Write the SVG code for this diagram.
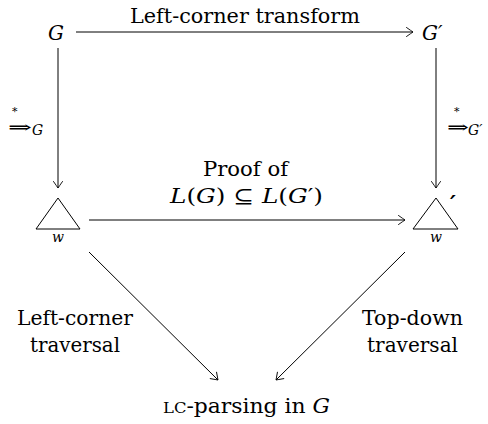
<svg xmlns="http://www.w3.org/2000/svg" width="488" height="424" viewBox="0 0 488 424">
<defs>
<style>
text{font-family:'DejaVu Serif','Liberation Serif',serif;fill:#000}
.t{font-size:20px}
.i{font-style:italic}
.s{font-size:14px}
.ln{stroke:#000;stroke-width:1;fill:none}
</style>
<marker id="ah" markerWidth="12" markerHeight="12" refX="0" refY="0" viewBox="-8 -6 10 12" orient="auto" markerUnits="userSpaceOnUse">
<path d="M-6.5,-4.5 Q-1.5,-1 0,0 Q-1.5,1 -6.5,4.5" fill="none" stroke="#000" stroke-width="0.9" stroke-linecap="round"/>
</marker>
</defs>
<rect width="488" height="424" fill="#fff"/>
<g id="connectors">
<line class="ln" x1="76" y1="32" x2="413" y2="32" marker-end="url(#ah)"/>
<line class="ln" x1="58" y1="48" x2="58" y2="188" marker-end="url(#ah)"/>
<line class="ln" x1="436" y1="48" x2="436" y2="188" marker-end="url(#ah)"/>
<line class="ln" x1="89" y1="220" x2="405" y2="220" marker-end="url(#ah)"/>
<line class="ln" x1="89" y1="252" x2="218" y2="380" marker-end="url(#ah)"/>
<line class="ln" x1="405" y1="252" x2="276" y2="380" marker-end="url(#ah)"/>
<text class="t" x="130" y="23" textLength="230" lengthAdjust="spacingAndGlyphs">Left-corner transform</text>
<text id="lbl-left-deriv" font-size="17"><tspan x="8" y="133" textLength="24" lengthAdjust="spacingAndGlyphs">⇒</tspan><tspan x="12" y="115" font-size="11">*</tspan><tspan class="s i" x="32" y="135">G</tspan></text>
<text id="lbl-right-deriv" font-size="17"><tspan x="447" y="133" textLength="22" lengthAdjust="spacingAndGlyphs">⇒</tspan><tspan x="454" y="115" font-size="11">*</tspan><tspan class="s i" x="468" y="135">G′</tspan></text>
<text class="t" x="203" y="176" textLength="85" lengthAdjust="spacingAndGlyphs">Proof of</text>
<text class="t" x="170" y="203" textLength="153" lengthAdjust="spacingAndGlyphs"><tspan class="i">L</tspan>(<tspan class="i">G</tspan>) ⊆ <tspan class="i">L</tspan>(<tspan class="i">G</tspan>′)</text>
<text class="t" x="17" y="325" textLength="116" lengthAdjust="spacingAndGlyphs">Left-corner</text>
<text class="t" x="30" y="352" textLength="90" lengthAdjust="spacingAndGlyphs">traversal</text>
<text class="t" x="362" y="325" textLength="101" lengthAdjust="spacingAndGlyphs">Top-down</text>
<text class="t" x="367" y="352" textLength="91" lengthAdjust="spacingAndGlyphs">traversal</text>
</g>
<g id="node-G">
<text class="t i" x="48" y="40">G</text>
</g>
<g id="node-Gp">
<text class="t i" x="422" y="40">G′</text>
</g>
<g id="node-tri-left">
<path class="ln" d="M58,198 L36,229 L80,229 Z"/>
<text class="s i" x="58" y="242" text-anchor="middle">w</text>
</g>
<g id="node-tri-right">
<path class="ln" d="M436,198 L413,229 L458,229 Z"/>
<text x="450" y="211" font-size="22" font-weight="bold" class="i">′</text>
<text class="s i" x="436" y="242" text-anchor="middle">w</text>
</g>
<g id="node-lc">
<text class="t" x="163" y="413" textLength="167" lengthAdjust="spacingAndGlyphs"><tspan font-size="15">LC</tspan>-parsing in <tspan class="i">G</tspan></text>
</g>
</svg>
